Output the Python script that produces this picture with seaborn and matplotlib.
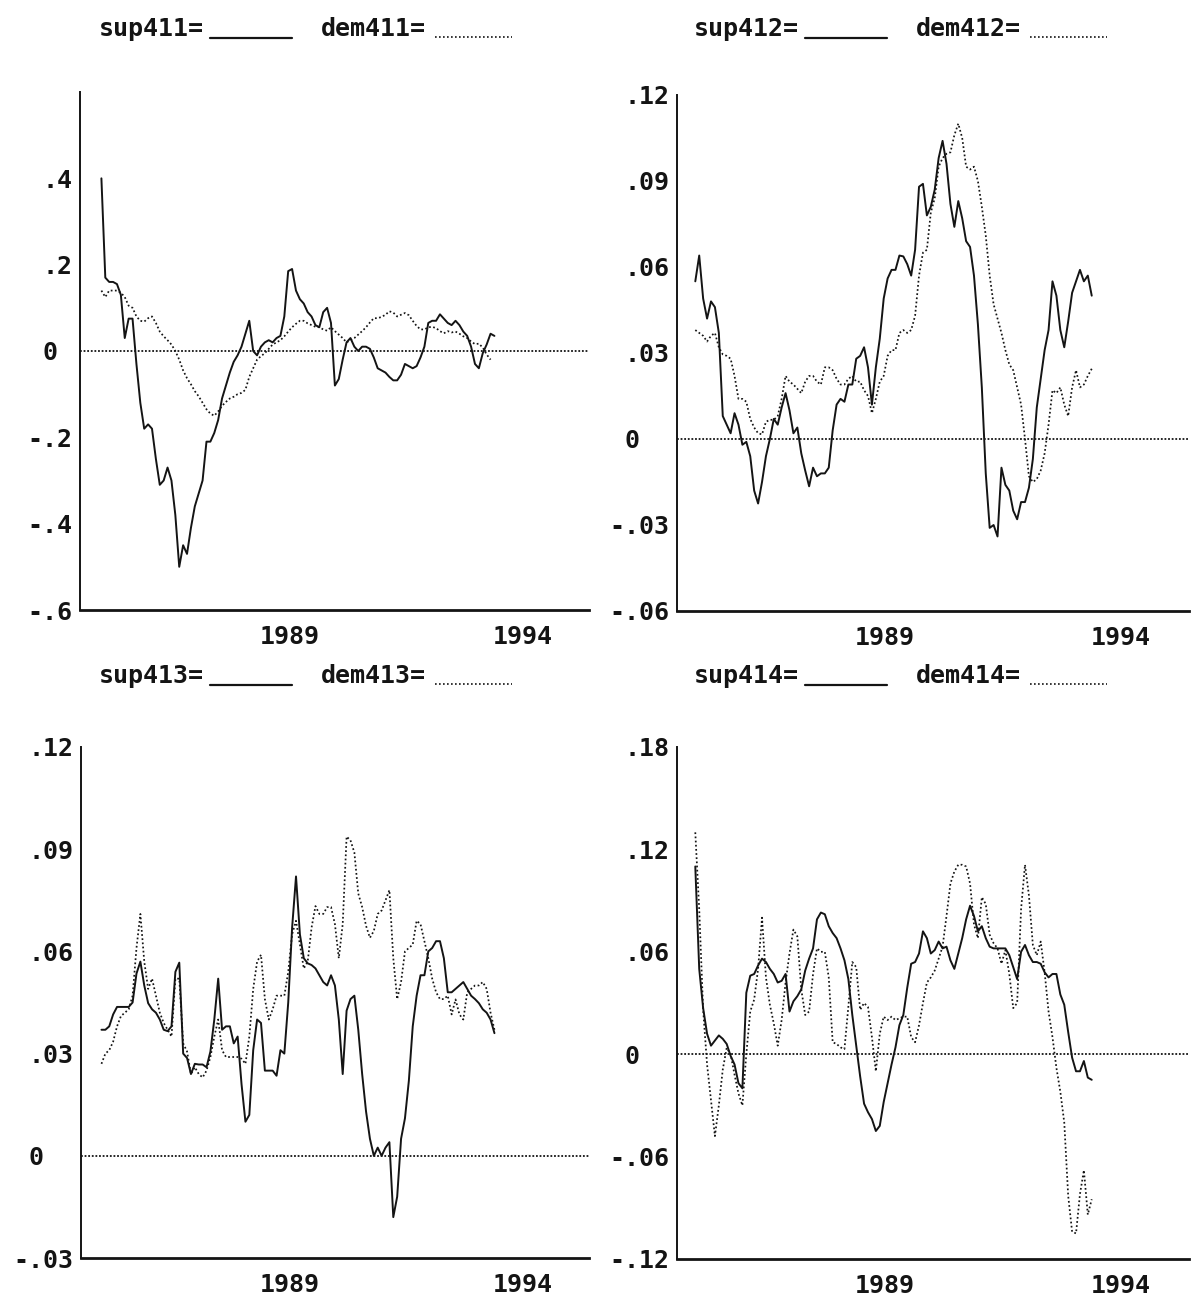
import numpy as np
import pandas as pd
import matplotlib
matplotlib.use("Agg")
import matplotlib.pyplot as plt
from matplotlib.lines import Line2D
from matplotlib.transforms import ScaledTranslation
import seaborn as sns

# Monthly observations, June 1984 - November 1992 (decimal years, mid-month)
periods = pd.period_range("1984-06", periods=102, freq="M")
dates = np.asarray(periods.year + (periods.month - 0.5) / 12, dtype=float)

sup411 = [0.40, 0.17, 0.16, 0.16, 0.155, 0.13, 0.03, 0.075, 0.075, -0.03,
          -0.12, -0.18, -0.17, -0.18, -0.25, -0.31, -0.30, -0.27, -0.30, -0.38,
          -0.50, -0.45, -0.47, -0.41, -0.36, -0.33, -0.30, -0.21, -0.21, -0.19,
          -0.16, -0.11, -0.08, -0.05, -0.025, -0.01, 0.01, 0.04, 0.07, 0.0,
          -0.01, 0.01, 0.02, 0.025, 0.02, 0.03, 0.035, 0.08, 0.185, 0.19,
          0.14, 0.12, 0.11, 0.09, 0.08, 0.06, 0.055, 0.09, 0.10, 0.065,
          -0.08, -0.065, -0.02, 0.02, 0.03, 0.01, 0.0, 0.01, 0.01, 0.005,
          -0.015, -0.04, -0.045, -0.05, -0.06, -0.068, -0.068, -0.055, -0.03, -0.035,
          -0.04, -0.035, -0.015, 0.01, 0.065, 0.07, 0.07, 0.085, 0.075, 0.065,
          0.06, 0.07, 0.06, 0.045, 0.035, 0.01, -0.03, -0.04, -0.005, 0.015,
          0.04, 0.035]
dem411 = [0.14, 0.125, 0.14, 0.14, 0.14, 0.135, 0.125, 0.105, 0.10, 0.08,
          0.07, 0.068, 0.076, 0.08, 0.065, 0.045, 0.034, 0.025, 0.015, 0.0,
          -0.02, -0.045, -0.063, -0.077, -0.093, -0.105, -0.12, -0.135, -0.145, -0.15,
          -0.14, -0.127, -0.118, -0.11, -0.106, -0.10, -0.097, -0.09, -0.06, -0.04,
          -0.02, -0.012, -0.005, 0.005, 0.015, 0.02, 0.025, 0.034, 0.045, 0.055,
          0.063, 0.07, 0.07, 0.064, 0.06, 0.056, 0.055, 0.05, 0.047, 0.055,
          0.046, 0.038, 0.03, 0.02, 0.025, 0.03, 0.038, 0.046, 0.055, 0.066,
          0.076, 0.076, 0.079, 0.084, 0.092, 0.089, 0.08, 0.084, 0.088, 0.083,
          0.07, 0.058, 0.05, 0.05, 0.055, 0.056, 0.053, 0.046, 0.041, 0.046,
          0.043, 0.045, 0.04, 0.034, 0.03, 0.022, 0.016, 0.017, 0.008, -0.008,
          -0.02, np.nan]

sup412 = [0.055, 0.064, 0.049, 0.042, 0.048, 0.046, 0.037, 0.008, 0.005, 0.002,
          0.009, 0.005, -0.002, -0.001, -0.006, -0.018, -0.0225, -0.015, -0.006, 0.0,
          0.007, 0.005, 0.011, 0.016, 0.010, 0.002, 0.004, -0.005, -0.011, -0.0165,
          -0.010, -0.013, -0.012, -0.012, -0.010, 0.003, 0.012, 0.014, 0.013, 0.019,
          0.019, 0.028, 0.029, 0.032, 0.025, 0.012, 0.025, 0.035, 0.049, 0.056,
          0.059, 0.059, 0.064, 0.0637, 0.061, 0.057, 0.066, 0.088, 0.089, 0.078,
          0.081, 0.087, 0.098, 0.104, 0.096, 0.082, 0.074, 0.083, 0.077, 0.069,
          0.067, 0.057, 0.040, 0.018, -0.012, -0.031, -0.030, -0.034, -0.010, -0.016,
          -0.018, -0.025, -0.028, -0.022, -0.022, -0.017, -0.007, 0.011, 0.021, 0.031,
          0.038, 0.055, 0.050, 0.038, 0.032, 0.041, 0.051, 0.055, 0.059, 0.055,
          0.057, 0.050]
dem412 = [0.038, 0.037, 0.036, 0.034, 0.036, 0.037, 0.032, 0.0295, 0.029, 0.028,
          0.022, 0.014, 0.014, 0.013, 0.007, 0.004, 0.002, 0.0016, 0.006, 0.0067,
          0.0067, 0.008, 0.014, 0.022, 0.020, 0.019, 0.0175, 0.016, 0.020, 0.022,
          0.022, 0.020, 0.019, 0.025, 0.025, 0.024, 0.021, 0.019, 0.019, 0.021,
          0.022, 0.020, 0.020, 0.017, 0.015, 0.009, 0.014, 0.020, 0.022, 0.029,
          0.031, 0.031, 0.037, 0.038, 0.037, 0.038, 0.043, 0.057, 0.065, 0.066,
          0.079, 0.084, 0.095, 0.098, 0.0995, 0.100, 0.106, 0.110, 0.105, 0.095,
          0.094, 0.095, 0.090, 0.081, 0.071, 0.057, 0.047, 0.042, 0.037, 0.031,
          0.026, 0.024, 0.018, 0.012, 0.0, -0.013, -0.015, -0.014, -0.011, -0.005,
          0.005, 0.017, 0.016, 0.018, 0.012, 0.008, 0.018, 0.024, 0.018, 0.019,
          0.022, 0.0245]

sup413 = [0.037, 0.037, 0.038, 0.0415, 0.0437, 0.0437, 0.0437, 0.0437, 0.045, 0.0535,
          0.057, 0.050, 0.0448, 0.043, 0.042, 0.040, 0.037, 0.0366, 0.038, 0.054,
          0.0567, 0.030, 0.0287, 0.024, 0.027, 0.0268, 0.0268, 0.026, 0.0306, 0.040,
          0.052, 0.037, 0.038, 0.038, 0.033, 0.035, 0.021, 0.010, 0.012, 0.031,
          0.040, 0.039, 0.025, 0.025, 0.025, 0.0235, 0.031, 0.030, 0.045, 0.067,
          0.082, 0.065, 0.058, 0.0565, 0.056, 0.055, 0.053, 0.051, 0.050, 0.053,
          0.050, 0.040, 0.024, 0.0426, 0.046, 0.047, 0.037, 0.024, 0.013, 0.005,
          0.0, 0.0024, 0.0, 0.0024, 0.004, -0.018, -0.012, 0.005, 0.011, 0.022,
          0.038, 0.047, 0.053, 0.053, 0.060, 0.061, 0.063, 0.063, 0.058, 0.048,
          0.048, 0.049, 0.050, 0.051, 0.049, 0.047, 0.046, 0.0448, 0.043, 0.042,
          0.040, 0.036]
dem413 = [0.027, 0.030, 0.031, 0.0335, 0.038, 0.041, 0.042, 0.043, 0.047, 0.061,
          0.071, 0.057, 0.049, 0.052, 0.047, 0.042, 0.039, 0.037, 0.035, 0.052,
          0.052, 0.033, 0.0306, 0.024, 0.026, 0.024, 0.023, 0.025, 0.029, 0.035,
          0.040, 0.031, 0.029, 0.029, 0.029, 0.029, 0.0285, 0.027, 0.035, 0.049,
          0.057, 0.059, 0.046, 0.040, 0.043, 0.047, 0.047, 0.047, 0.054, 0.065,
          0.069, 0.062, 0.055, 0.057, 0.067, 0.0733, 0.071, 0.071, 0.073, 0.073,
          0.068, 0.058, 0.068, 0.0937, 0.0926, 0.089, 0.077, 0.073, 0.0675, 0.064,
          0.066, 0.071, 0.072, 0.075, 0.078, 0.058, 0.046, 0.051, 0.060, 0.061,
          0.062, 0.069, 0.068, 0.063, 0.058, 0.052, 0.048, 0.046, 0.046, 0.047,
          0.0415, 0.0459, 0.0415, 0.040, 0.048, 0.049, 0.050, 0.050, 0.051, 0.049,
          0.042, 0.037]

sup414 = [0.11, 0.050, 0.027, 0.012, 0.005, 0.008, 0.011, 0.009, 0.006, -0.001,
          -0.006, -0.017, -0.020, 0.036, 0.046, 0.047, 0.052, 0.056, 0.054, 0.050,
          0.047, 0.042, 0.043, 0.047, 0.025, 0.031, 0.034, 0.038, 0.049, 0.056,
          0.062, 0.079, 0.083, 0.082, 0.075, 0.071, 0.068, 0.062, 0.055, 0.044,
          0.023, 0.005, -0.013, -0.029, -0.034, -0.038, -0.045, -0.042, -0.028, -0.017,
          -0.006, 0.004, 0.017, 0.023, 0.039, 0.053, 0.054, 0.059, 0.072, 0.068,
          0.059, 0.061, 0.066, 0.062, 0.063, 0.055, 0.050, 0.059, 0.068, 0.079,
          0.087, 0.081, 0.072, 0.075, 0.068, 0.063, 0.062, 0.062, 0.062, 0.062,
          0.058, 0.051, 0.044, 0.060, 0.064, 0.058, 0.054, 0.054, 0.053, 0.048,
          0.045, 0.047, 0.047, 0.035, 0.029, 0.013, -0.002, -0.010, -0.010, -0.004,
          -0.0137, -0.015]
dem414 = [0.13, 0.085, 0.026, -0.006, -0.027, -0.048, -0.03, -0.009, 0.0037, 0.0,
          -0.012, -0.023, -0.030, 0.0, 0.025, 0.032, 0.05, 0.08, 0.045, 0.029,
          0.018, 0.005, 0.020, 0.042, 0.059, 0.073, 0.069, 0.038, 0.023, 0.025,
          0.047, 0.062, 0.060, 0.060, 0.045, 0.007, 0.006, 0.004, 0.003, 0.028,
          0.054, 0.051, 0.026, 0.030, 0.0276, 0.010, -0.010, 0.012, 0.022, 0.020,
          0.022, 0.020, 0.021, 0.022, 0.022, 0.010, 0.007, 0.017, 0.030, 0.042,
          0.045, 0.049, 0.056, 0.063, 0.081, 0.100, 0.107, 0.111, 0.111, 0.110,
          0.100, 0.076, 0.068, 0.092, 0.088, 0.070, 0.065, 0.062, 0.053, 0.061,
          0.047, 0.027, 0.030, 0.085, 0.111, 0.093, 0.064, 0.058, 0.066, 0.048,
          0.025, 0.010, -0.008, -0.022, -0.040, -0.083, -0.104, -0.105, -0.082, -0.068,
          -0.094, -0.085]

# y-axis ticks and labels per panel
yt411 = [-0.6, -0.4, -0.2, 0.0, 0.2, 0.4]
yl411 = ["-.6", "-.4", "-.2", "0", ".2", ".4"]
ym411 = [-0.5, -0.3, -0.1, 0.1, 0.3, 0.5]
yt412 = [-0.06, -0.03, 0.0, 0.03, 0.06, 0.09, 0.12]
yl412 = ["-.06", "-.03", "0", ".03", ".06", ".09", ".12"]
ym412 = [-0.045, -0.015, 0.015, 0.045, 0.075, 0.105]
yt413 = [-0.03, 0.0, 0.03, 0.06, 0.09, 0.12]
yl413 = ["-.03", "0", ".03", ".06", ".09", ".12"]
ym413 = [-0.015, 0.015, 0.045, 0.075, 0.105]
yt414 = [-0.12, -0.06, 0.0, 0.06, 0.12, 0.18]
yl414 = ["-.12", "-.06", "0", ".06", ".12", ".18"]
ym414 = [-0.09, -0.03, 0.03, 0.09, 0.15]

year_major = [1989, 1994]
year_major_labels = ["1989", "1994"]
year_minor = [1985, 1986, 1987, 1988, 1990, 1991, 1992, 1993]

sns.set_style("white")
MONO = ["DejaVu Sans Mono", "DejaVu Sans"]
plt.rcParams["font.family"] = MONO
plt.rcParams["font.weight"] = "bold"

W, H = 1191, 1304
fig = plt.figure(figsize=(W / 100, H / 100), dpi=100)
INK = "#141414"
DOT = (0, (1, 1.4))

panels = [
    # code, sup, dem, (left, top, right, bottom) px, xlim, ylim, ticks, labels, minor,
    # legend origin px, zero-label shift (chars)
    ("411", sup411, dem411, (80, 92, 589, 610), (1984.0, 1994.9), (-0.6, 0.6),
     yt411, yl411, ym411, (99, 36), 1),
    ("412", sup412, dem412, (677, 95, 1189, 611), (1984.07, 1994.94), (-0.06, 0.12),
     yt412, yl412, ym412, (694, 36), 2),
    ("413", sup413, dem413, (81, 747, 589, 1258), (1984.02, 1994.9), (-0.03, 0.12),
     yt413, yl413, ym413, (99, 683), 2),
    ("414", sup414, dem414, (677, 747, 1189, 1259), (1984.07, 1994.94), (-0.12, 0.18),
     yt414, yl414, ym414, (694, 683), 2),
]

TICK_FS = 18
TITLE_FS = 18
char_w = 0.602 * TICK_FS  # monospace advance in points

for code, sup, dem, (l, t, r, b), xlim, ylim, yt, yl, ym, (tx, ty), zshift in panels:
    ax = fig.add_axes([l / W, 1 - b / H, (r - l) / W, (b - t) / H])
    df = pd.DataFrame({"date": dates, "sup": sup, "dem": dem})

    ax.axhline(0, color=INK, lw=1.3, linestyle=(0, (1, 1)), zorder=1)
    sns.lineplot(data=df, x="date", y="sup", ax=ax, color=INK, lw=1.4, zorder=3)
    sns.lineplot(data=df, x="date", y="dem", ax=ax, color=INK, lw=1.25,
                 linestyle=DOT, zorder=2)

    ax.set_xlim(*xlim)
    ax.set_ylim(*ylim)
    ax.set_xlabel("")
    ax.set_ylabel("")
    sns.despine(ax=ax)
    ax.spines["left"].set_linewidth(1.4)
    ax.spines["bottom"].set_linewidth(2.0)
    ax.spines["left"].set_color(INK)
    ax.spines["bottom"].set_color(INK)

    ax.set_xticks(year_major, year_major_labels)
    ax.set_xticks(year_minor, minor=True)
    ax.set_yticks(yt, yl)
    ax.set_yticks(ym, minor=True)

    ax.tick_params(axis="x", which="major", direction="in", length=8.5, width=1.5,
                   pad=11, labelsize=TICK_FS, colors=INK)
    ax.tick_params(axis="x", which="minor", direction="in", length=3.5, width=1.5, colors=INK)
    ax.tick_params(axis="y", which="major", direction="in", length=8, width=1.5,
                   pad=5.5, labelsize=TICK_FS, colors=INK)
    ax.tick_params(axis="y", which="minor", direction="in", length=3.6, width=1.5, colors=INK)

    for lbl in ax.get_xticklabels():
        lbl.set_ha("right")
        lbl.set_fontweight("bold")
        lbl.set_transform(lbl.get_transform() + ScaledTranslation(6 / 100, 0, fig.dpi_scale_trans))
    for lbl in ax.get_yticklabels():
        lbl.set_fontweight("bold")
        if lbl.get_text() == "0":
            lbl.set_transform(lbl.get_transform()
                              + ScaledTranslation(-zshift * char_w / 72, 0, fig.dpi_scale_trans))

    # legend line: "supNNN=____  demNNN=......"
    fig.text(tx / W, 1 - ty / H, f"sup{code}=", fontsize=TITLE_FS,
             fontweight="bold", color=INK, ha="left", va="baseline", family=MONO)
    fig.add_artist(Line2D([(tx + 111) / W, (tx + 193) / W], [1 - (ty + 2) / H] * 2,
                          transform=fig.transFigure, color=INK, lw=1.6))
    fig.text((tx + 222) / W, 1 - ty / H, f"dem{code}=", fontsize=TITLE_FS,
             fontweight="bold", color=INK, ha="left", va="baseline", family=MONO)
    fig.add_artist(Line2D([(tx + 336) / W, (tx + 413) / W], [1 - (ty + 1) / H] * 2,
                          transform=fig.transFigure, color=INK, lw=1.2, linestyle=DOT))

fig.savefig("out.png", dpi=100, facecolor="white")
